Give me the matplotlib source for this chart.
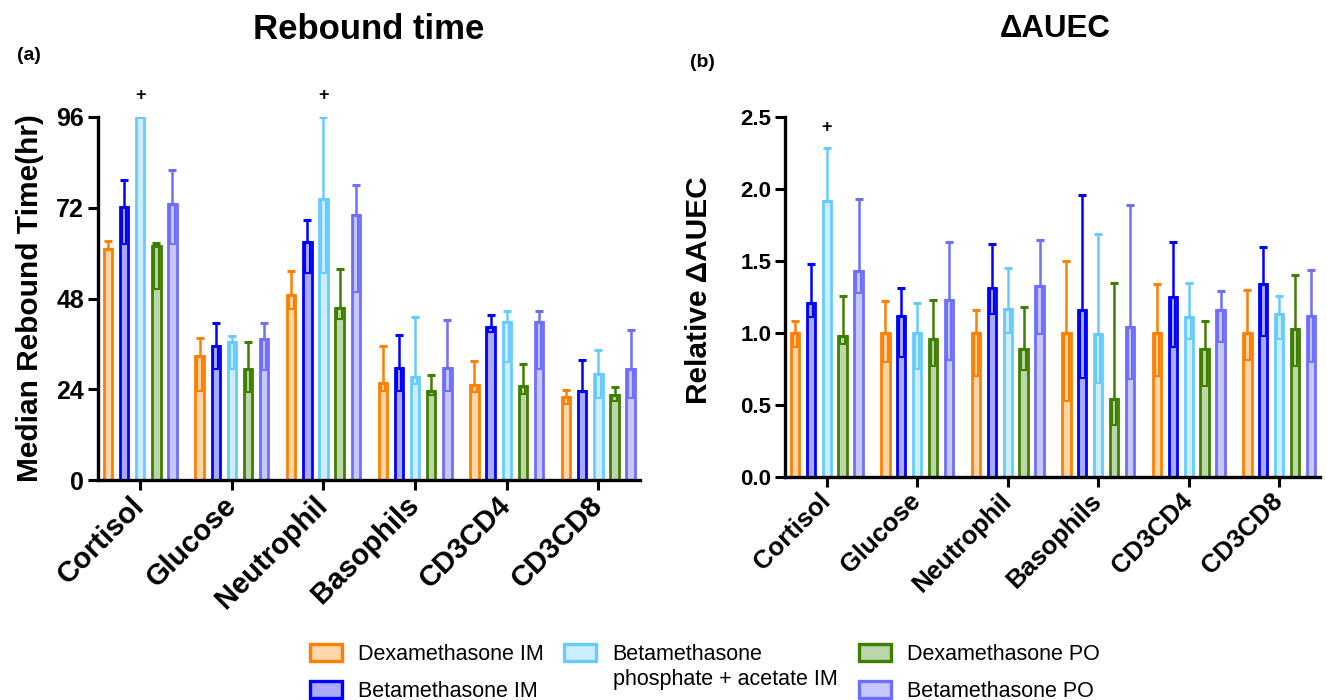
import numpy as np
import matplotlib
matplotlib.use("Agg")
import matplotlib.pyplot as plt
import matplotlib.patches as mpatches

plt.rcParams['font.family'] = ['Liberation Sans', 'DejaVu Sans']

categories = ["Cortisol", "Glucose", "Neutrophil", "Basophils", "CD3CD4", "CD3CD8"]
series = ["Dexamethasone IM", "Betamethasone IM",
          "Betamethasone\nphosphate + acetate IM", "Dexamethasone PO", "Betamethasone PO"]
edge_colors = ["#FF8000", "#0000FF", "#66CCFF", "#3F7F00", "#6E6EFF"]
fill_colors = ["#FFD5AA", "#AAAAFF", "#CCEEFF", "#BDD5AA", "#C8C8FF"]

# (a) median rebound time (hr): rows = series, cols = categories
rebound = [
    [61.0, 32.7, 49.0, 25.8, 25.2, 22.1],
    [72.2, 35.5, 63.0, 29.6, 40.4, 23.5],
    [96.0, 36.4, 74.2, 27.4, 41.8, 28.1],
    [61.9, 29.4, 45.6, 23.5, 25.0, 22.6],
    [73.1, 37.3, 70.1, 29.6, 41.8, 29.3],
]
rebound_low = [
    [61.0, 23.5, 45.2, 23.6, 23.3, 20.1],
    [62.5, 29.5, 54.8, 23.6, 39.1, 23.5],
    [96.0, 29.5, 54.8, 25.3, 31.3, 21.6],
    [50.4, 23.3, 42.5, 22.5, 22.9, 20.9],
    [62.5, 29.2, 49.7, 23.5, 29.3, 21.7],
]
rebound_high = [
    [63.3, 37.5, 55.2, 35.4, 31.4, 23.8],
    [79.3, 41.5, 68.8, 38.3, 43.7, 31.7],
    [96.0, 38.1, 95.9, 43.0, 44.6, 34.4],
    [62.6, 36.6, 55.8, 27.8, 30.6, 24.6],
    [82.1, 41.5, 78.0, 42.3, 44.7, 39.7],
]

# (b) relative delta AUEC
auec = [
    [1.00, 1.00, 1.00, 1.00, 1.00, 1.00],
    [1.21, 1.12, 1.31, 1.16, 1.25, 1.34],
    [1.92, 1.00, 1.17, 0.99, 1.11, 1.13],
    [0.98, 0.96, 0.89, 0.54, 0.89, 1.03],
    [1.43, 1.23, 1.33, 1.04, 1.16, 1.12],
]
auec_low = [
    [0.90, 0.80, 0.70, 0.53, 0.70, 0.81],
    [1.11, 0.83, 1.13, 0.69, 0.90, 0.98],
    [1.92, 0.75, 1.00, 0.65, 0.96, 0.96],
    [0.92, 0.77, 0.74, 0.36, 0.63, 0.77],
    [1.28, 0.81, 0.99, 0.68, 0.94, 0.80],
]
auec_high = [
    [1.08, 1.22, 1.16, 1.50, 1.34, 1.30],
    [1.48, 1.31, 1.62, 1.96, 1.63, 1.60],
    [2.29, 1.21, 1.45, 1.69, 1.35, 1.26],
    [1.26, 1.23, 1.18, 1.35, 1.08, 1.40],
    [1.93, 1.63, 1.65, 1.89, 1.29, 1.44],
]

# "+" markers: (category index, series index)
plus_a = [(0, 2), (2, 2)]
plus_b = [(0, 2)]


def draw_panel(ax, vals, lows, highs, plus, plus_y, ylim, yticks, yticklabels,
               ylabel, tick_fs, xtick_fs):
    x = np.arange(len(categories))
    offsets = (np.arange(len(series)) - 2) * 0.176
    for i in range(len(series)):
        xs = x + offsets[i]
        v = np.array(vals[i])
        lo = np.array(lows[i])
        hi = np.array(highs[i])
        ax.bar(xs, v, width=0.092, color=fill_colors[i], edgecolor=edge_colors[i],
               linewidth=2.0, zorder=2)
        # inner box showing the lower part of the range
        ax.bar(xs, v - lo, bottom=lo, width=0.05, fill=False, edgecolor=edge_colors[i],
               linewidth=1.5, zorder=3)
        ax.errorbar(xs, v, yerr=[np.zeros_like(v), hi - v], fmt='none',
                    ecolor=edge_colors[i], elinewidth=1.8, capsize=2.8,
                    capthick=2.2, zorder=3)
    for ci, si in plus:
        ax.text(x[ci] + offsets[si], plus_y, "+", ha='center', va='center',
                fontsize=13, fontweight='bold', clip_on=False)
    ax.set_xlim(-0.46, 5.45)
    ax.set_ylim(*ylim)
    ax.set_yticks(yticks)
    ax.set_yticklabels(yticklabels, fontsize=tick_fs, fontweight='bold')
    ax.set_xticks(x)
    ax.set_xticklabels(categories, rotation=45, ha='right', va='center',
                       rotation_mode='anchor', fontsize=xtick_fs, fontweight='bold')
    ax.tick_params(axis='both', direction='out', length=7, width=2.2)
    ax.tick_params(axis='x', pad=8)
    ax.tick_params(axis='y', pad=3)
    for s in ['top', 'right']:
        ax.spines[s].set_visible(False)
    for s in ['left', 'bottom']:
        ax.spines[s].set_linewidth(2.4)
    ax.set_ylabel(ylabel, fontsize=21.5, fontweight='bold')


fig = plt.figure(figsize=(13.27, 7), dpi=100)
ax1 = fig.add_axes([0.0739, 0.314, 0.4081, 0.519])
ax2 = fig.add_axes([0.5916, 0.319, 0.4031, 0.5134])

draw_panel(ax1, rebound, rebound_low, rebound_high, plus_a, 101.7, (0, 96),
           [0, 24, 48, 72, 96], ["0", "24", "48", "72", "96"],
           "Median Rebound Time(hr)", 18, 21)
draw_panel(ax2, auec, auec_low, auec_high, plus_b, 2.43, (0, 2.5),
           [0, 0.5, 1.0, 1.5, 2.0, 2.5], ["0.0", "0.5", "1.0", "1.5", "2.0", "2.5"],
           "Relative \u0394AUEC", 16, 18.5)
ax1.yaxis.set_label_coords(-0.10, 0.5)
ax2.yaxis.set_label_coords(-0.134, 0.52)

fig.text(0.278, 0.958, "Rebound time", ha='center', va='center', fontsize=25, fontweight='bold')
fig.text(0.795, 0.958, "\u0394AUEC", ha='center', va='center', fontsize=22.5, fontweight='bold')
fig.text(0.013, 0.921, "(a)", ha='left', va='center', fontsize=14, fontweight='bold')
fig.text(0.52, 0.911, "(b)", ha='left', va='center', fontsize=14, fontweight='bold')

handles = [mpatches.Patch(facecolor=fill_colors[i], edgecolor=edge_colors[i], linewidth=2.4)
           for i in range(len(series))]
legend_fs = 15.5
groups = [([0, 1], 310), ([2], 564), ([3, 4], 859)]
for idx, xpix in groups:
    labels = [series[i].split("\n")[0] for i in idx]
    fig.legend([handles[i] for i in idx], labels,
               loc='upper left', bbox_to_anchor=(xpix / 1327, 1 - 644 / 700),
               frameon=False, fontsize=legend_fs, handlelength=1.5, handleheight=0.85,
               labelspacing=0.75, handletextpad=0.75, borderpad=0, borderaxespad=0)
fig.text(613 / 1327, 1 - 680 / 700, series[2].split("\n")[1], ha='left', va='center',
         fontsize=legend_fs)

fig.savefig("out.png", dpi=100)
